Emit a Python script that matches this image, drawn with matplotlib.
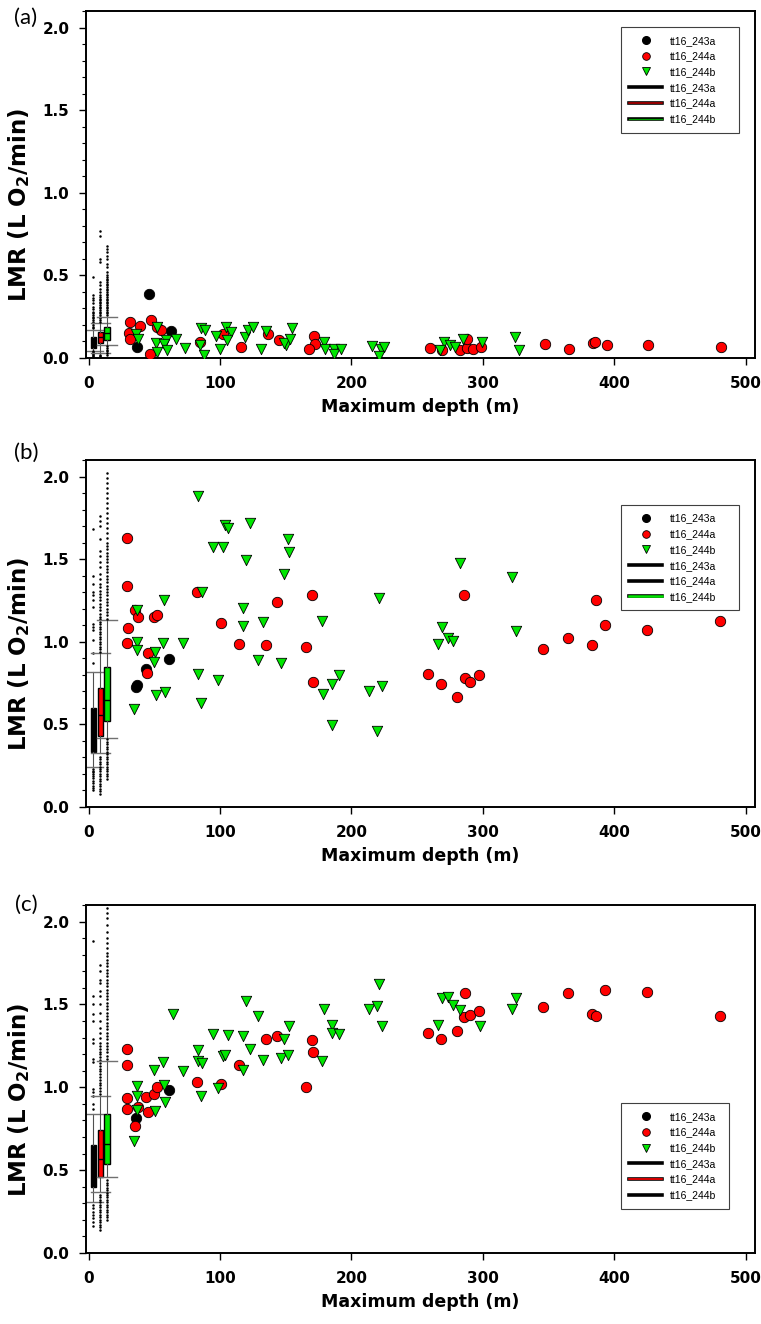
import numpy as np
import matplotlib
matplotlib.use('Agg')
import matplotlib.pyplot as plt
from matplotlib.lines import Line2D
from matplotlib.ticker import MultipleLocator

plt.rcParams['font.family'] = ['DejaVu Sans']
plt.rcParams['font.weight'] = 'bold'

GREEN = '#00e600'
labels = ['tt16_243a', 'tt16_244a', 'tt16_244b']

# ---------------- panel (a) ----------------
a_243a_x = [37, 46, 63]
a_243a_y = [0.067, 0.39, 0.163]
a_244a_x = [31.2, 30.7, 31.5, 39.1, 46.5, 47.2, 52.3, 54.8, 84.5, 102.6, 115.8, 136.1, 145, 171.6,
            172.6, 167.6, 260, 269.1, 282.3, 288, 288.2, 292.1, 298.6, 347.5, 365.8, 383.6, 385.6,
            394.5, 425.5, 480.8]
a_244a_y = [0.218, 0.15, 0.115, 0.195, 0.022, 0.232, 0.187, 0.171, 0.094, 0.143, 0.069, 0.147, 0.107,
            0.133, 0.087, 0.055, 0.06, 0.051, 0.051, 0.063, 0.113, 0.055, 0.069, 0.083, 0.057, 0.091,
            0.097, 0.077, 0.077, 0.067]
a_244b_x = [35.8, 37.8, 51.8, 51, 52.3, 58.6, 57.4, 59.9, 66.3, 73.4, 85.3, 88.3, 84.8, 87.4, 96.7,
            100, 104.3, 108.1, 105.6, 118.8, 121.3, 124.7, 131, 134.8, 150, 148.8, 153.3, 154.6, 179.2,
            180, 186.4, 186.4, 192, 215.3, 222.4, 224.9, 220.6, 270.6, 267.6, 275.3, 278.8, 284.6,
            299.3, 324.1, 327.3]
a_244b_y = [0.147, 0.117, 0.188, 0.093, 0.036, 0.107, 0.083, 0.051, 0.117, 0.06, 0.181, 0.167, 0.077,
            0.016, 0.133, 0.053, 0.188, 0.157, 0.107, 0.127, 0.171, 0.188, 0.057, 0.163, 0.077, 0.091,
            0.117, 0.184, 0.097, 0.057, 0.057, 0.027, 0.053, 0.071, 0.057, 0.067, 0.012, 0.097, 0.051,
            0.081, 0.067, 0.117, 0.097, 0.127, 0.047]

# box stats: q1, median, q3, lower whisker, upper whisker
a_box_243a = [0.06, 0.09, 0.125, 0.045, 0.17]
a_box_244a = [0.09, 0.125, 0.16, 0.03, 0.21]
a_box_244b = [0.11, 0.15, 0.185, 0.08, 0.25]
a_fl_243a = [0.005, 0.01, 0.016, 0.022, 0.028, 0.034, 0.04, 0.18, 0.19, 0.2, 0.21, 0.22, 0.23, 0.24,
             0.25, 0.26, 0.27, 0.28, 0.295, 0.31, 0.33, 0.35, 0.365, 0.38, 0.49]
a_fl_244a = [0.005, 0.012, 0.02, 0.22, 0.23, 0.24, 0.25, 0.26, 0.27, 0.28, 0.29, 0.3, 0.31, 0.32, 0.33,
             0.34, 0.35, 0.36, 0.37, 0.38, 0.4, 0.42, 0.44, 0.46, 0.58, 0.6, 0.74, 0.77]
a_fl_244b = [0.02, 0.03, 0.04, 0.05, 0.06, 0.07, 0.26, 0.27, 0.28, 0.29, 0.3, 0.31, 0.32, 0.33, 0.34,
             0.35, 0.36, 0.37, 0.38, 0.39, 0.4, 0.41, 0.42, 0.43, 0.44, 0.45, 0.46, 0.47, 0.48, 0.49,
             0.5, 0.52, 0.55, 0.57, 0.6, 0.62, 0.64, 0.66, 0.68]

# ---------------- panel (b) ----------------
b_243a_x = [36, 36.5, 43.7, 61.4]
b_243a_y = [0.725, 0.74, 0.836, 0.894]
b_244a_x = [28.9, 28.9, 30.2, 29.5, 35.5, 37.8, 49.5, 52.3, 45.2, 44.2, 82.8, 100.5, 143.2, 169.8,
            114.2, 134.8, 165.5, 170.8, 285.8, 258.2, 268.1, 286.1, 290.4, 296.8, 280.5, 346, 365,
            383, 386, 393, 425, 480]
b_244a_y = [1.63, 1.34, 1.084, 0.993, 1.19, 1.15, 1.15, 1.164, 0.933, 0.812, 1.30, 1.112, 1.239, 1.281,
            0.987, 0.981, 0.971, 0.758, 1.281, 0.806, 0.746, 0.778, 0.759, 0.796, 0.663, 0.955, 1.02,
            0.98, 1.25, 1.10, 1.07, 1.125]
b_244b_x = [37.1, 36.6, 36.6, 34.5, 50.3, 49.8, 56.6, 57.1, 51, 58.1, 72.1, 83.5, 83.3, 85.8, 103.8,
            106.1, 122.8, 95, 102.6, 119.8, 151.6, 152.8, 148.5, 86.6, 117.5, 117.5, 132.7, 177.5,
            98.5, 129.2, 146.5, 190.2, 184.8, 178.5, 213.5, 223.2, 184.8, 219.1, 221.1, 282.8, 322.2,
            325.5, 268.8, 273.2, 277, 265.6]
b_244b_y = [1.19, 1.0, 0.953, 0.594, 0.939, 0.88, 0.991, 1.253, 0.675, 0.695, 0.991, 1.883, 0.806, 0.628,
            1.706, 1.688, 1.718, 1.571, 1.571, 1.495, 1.622, 1.545, 1.41, 1.30, 1.203, 1.094, 1.118,
            1.128, 0.77, 0.89, 0.87, 0.80, 0.745, 0.681, 0.705, 0.735, 0.494, 0.457, 1.263, 1.477,
            1.39, 1.063, 1.088, 1.024, 1.007, 0.987]

b_box_243a = [0.335, 0.46, 0.60, 0.245, 0.82]
b_box_244a = [0.43, 0.555, 0.72, 0.325, 0.93]
b_box_244b = [0.52, 0.645, 0.85, 0.42, 1.13]
b_fl_243a = [0.1, 0.115, 0.13, 0.145, 0.16, 0.175, 0.19, 0.2, 0.21, 0.22, 0.23, 0.87, 0.93, 1.01,
             1.07, 1.09, 1.11, 1.21, 1.25, 1.28, 1.3, 1.35, 1.4, 1.68]
b_fl_244a = [0.08, 0.095, 0.11, 0.125, 0.14, 0.155, 0.17, 0.185, 0.2, 0.215, 0.23, 0.245, 0.26, 0.275,
             0.29, 0.305, 0.94, 0.955, 0.97, 0.985, 1.0, 1.015, 1.03, 1.045, 1.06, 1.075, 1.09, 1.105,
             1.12, 1.135, 1.15, 1.17, 1.19, 1.21, 1.23, 1.25, 1.27, 1.29, 1.31, 1.33, 1.35, 1.38,
             1.41, 1.45, 1.48, 1.52, 1.55, 1.62, 1.70, 1.73, 1.76]
b_fl_244b = [0.17, 0.185, 0.2, 0.215, 0.23, 0.245, 0.26, 0.275, 0.29, 0.305, 0.32, 0.335, 0.35, 0.365,
             0.38, 0.395, 0.41, 1.14, 1.16, 1.18, 1.2, 1.22, 1.24, 1.26, 1.28, 1.3, 1.32, 1.34, 1.36,
             1.38, 1.4, 1.42, 1.44, 1.46, 1.48, 1.5, 1.52, 1.54, 1.56, 1.58, 1.6, 1.63, 1.66, 1.69,
             1.72, 1.75, 1.78, 1.81, 1.84, 1.87, 1.9, 1.93, 1.96, 1.99, 2.02]

# ---------------- panel (c) ----------------
c_243a_x = [35.8, 61.4]
c_243a_y = [0.814, 0.985]
c_244a_x = [29.5, 28.9, 28.9, 29.5, 37.5, 35.3, 43.9, 45.2, 49.7, 52.3, 82.5, 100.5, 114.5, 134.8,
            143.2, 169.8, 170.8, 165.5, 258.2, 268.1, 280.5, 286.1, 285.8, 290.4, 296.8, 346, 365,
            383, 386, 393, 425, 480]
c_244a_y = [1.231, 1.132, 0.938, 0.87, 0.884, 0.769, 0.941, 0.848, 0.961, 0.999, 1.029, 1.021, 1.132,
            1.294, 1.308, 1.288, 1.213, 0.999, 1.328, 1.294, 1.338, 1.57, 1.425, 1.439, 1.459, 1.487,
            1.57, 1.44, 1.43, 1.59, 1.575, 1.43]
c_244b_x = [34.5, 36.6, 36.6, 36.6, 49.7, 56.6, 50.3, 57.4, 58.1, 64.5, 72.1, 83.5, 83.5, 85.3, 86.6,
            98.5, 102.6, 103.8, 95, 106.1, 117.5, 117.5, 119.8, 122.8, 129.2, 132.7, 146.5, 148.5,
            151.6, 152.8, 177.5, 178.7, 184.8, 184.8, 190.2, 213.5, 219.1, 221.1, 223.2, 268.8, 273.2,
            277, 265.6, 282.8, 298, 322.2, 325.5]
c_244b_y = [0.678, 1.009, 0.95, 0.86, 1.106, 1.15, 0.854, 1.011, 0.91, 1.445, 1.10, 1.227, 1.156, 0.95,
            1.146, 0.995, 1.19, 1.197, 1.324, 1.314, 1.308, 1.102, 1.52, 1.231, 1.433, 1.162, 1.177,
            1.292, 1.197, 1.368, 1.156, 1.475, 1.378, 1.328, 1.324, 1.473, 1.493, 1.626, 1.368, 1.54,
            1.546, 1.499, 1.378, 1.465, 1.368, 1.475, 1.54]

c_box_243a = [0.40, 0.52, 0.65, 0.31, 0.84]
c_box_244a = [0.46, 0.57, 0.74, 0.37, 0.95]
c_box_244b = [0.54, 0.655, 0.84, 0.46, 1.16]
c_fl_243a = [0.16, 0.19, 0.21, 0.23, 0.25, 0.27, 0.29, 0.87, 0.9, 0.95, 0.97, 0.99, 1.15, 1.17, 1.27,
             1.29, 1.4, 1.44, 1.5, 1.55, 1.88]
c_fl_244a = [0.14, 0.155, 0.17, 0.185, 0.2, 0.215, 0.23, 0.245, 0.26, 0.275, 0.29, 0.305, 0.32, 0.335,
             0.35, 0.96, 0.977, 0.994, 1.011, 1.028, 1.045, 1.062, 1.079, 1.096, 1.113, 1.13, 1.147,
             1.164, 1.181, 1.198, 1.215, 1.232, 1.25, 1.27, 1.3, 1.33, 1.36, 1.4, 1.45, 1.5, 1.55,
             1.58, 1.63, 1.65, 1.7, 1.74]
c_fl_244b = [0.2, 0.215, 0.23, 0.245, 0.26, 0.275, 0.29, 0.305, 0.32, 0.335, 0.35, 0.365, 0.38, 0.395,
             0.41, 0.425, 0.44, 1.17, 1.19, 1.21, 1.23, 1.25, 1.27, 1.29, 1.31, 1.33, 1.35, 1.37, 1.39,
             1.41, 1.43, 1.45, 1.47, 1.49, 1.51, 1.53, 1.55, 1.57, 1.59, 1.61, 1.63, 1.65, 1.67, 1.69,
             1.71, 1.73, 1.75, 1.77, 1.79, 1.81, 1.84, 1.87, 1.9, 1.94, 1.98, 2.02, 2.05, 2.08]

box_pos = [3.5, 9, 14]
box_colors = ['black', 'red', GREEN]


def draw_panel(ax, scat, boxes, fliers, line_cores, leg_box, tag, tag_y):
    # box plots from precomputed stats
    stats = []
    for b, fl in zip(boxes, fliers):
        stats.append(dict(q1=b[0], med=b[1], q3=b[2], whislo=b[3], whishi=b[4], fliers=fl))
    bp = ax.bxp(stats, positions=box_pos, widths=4, capwidths=15, patch_artist=True,
                manage_ticks=False,
                boxprops=dict(edgecolor='black', linewidth=1),
                medianprops=dict(color='black', linewidth=1),
                whiskerprops=dict(color='#505050', linewidth=0.8),
                capprops=dict(color='#707070', linewidth=1),
                flierprops=dict(marker='o', markersize=1.8, markerfacecolor='black',
                                markeredgecolor='black', markeredgewidth=0))
    for patch, col in zip(bp['boxes'], box_colors):
        patch.set_facecolor(col)

    (x1, y1), (x2, y2), (x3, y3) = scat
    ax.scatter(x1, y1, s=56, c='black', edgecolors='black', linewidths=0.6, zorder=3)
    ax.scatter(x2, y2, s=56, c='red', edgecolors='black', linewidths=0.6, zorder=3)
    ax.scatter(x3, y3, s=56, c=GREEN, marker='v', edgecolors='black', linewidths=0.6, zorder=3)

    ax.set_xlim(-2, 507)
    ax.set_ylim(0, 2.1)
    ax.xaxis.set_major_locator(MultipleLocator(100))
    ax.yaxis.set_minor_locator(MultipleLocator(0.1))
    ax.set_yticks([0, 0.5, 1.0, 1.5, 2.0])
    ax.set_yticklabels(['0.0', '0.5', '1.0', '1.5', '2.0'])
    ax.tick_params(axis='both', which='major', direction='out', length=5, width=1, labelsize=11)
    ax.tick_params(axis='x', which='major', pad=8)
    ax.tick_params(axis='y', which='major', pad=7)
    ax.tick_params(axis='y', which='minor', direction='out', length=3, width=0.8)
    for sp in ax.spines.values():
        sp.set_linewidth(1.4)

    ax.set_xlabel('Maximum depth (m)', fontsize=12.5, fontweight='bold', labelpad=5)
    ax.set_ylabel('LMR (L O$_\\mathbf{2}$/min)', fontsize=16.5, fontweight='bold')
    ax.yaxis.set_label_coords(-0.081, 0.44)

    handles = [Line2D([], [], ls='none', marker='o', ms=5.5, mfc='black', mec='black'),
               Line2D([], [], ls='none', marker='o', ms=5.5, mfc='red', mec='black', mew=0.6),
               Line2D([], [], ls='none', marker='v', ms=5.5, mfc=GREEN, mec='black', mew=0.6)]
    for core in line_cores:
        if core is None:
            handles.append(Line2D([], [], color='black', lw=2.6))
        else:
            handles.append((Line2D([], [], color='black', lw=2.6),
                            Line2D([], [], color=core[0], lw=core[1])))
    leg = ax.legend(handles, labels + labels, loc='upper left', bbox_to_anchor=leg_box,
                    mode='expand', frameon=True, fancybox=False, edgecolor='#404040',
                    framealpha=1, prop=dict(family=['Liberation Sans'], size=7.5, weight='normal'),
                    handlelength=3.2, handletextpad=0.75, labelspacing=0.55, borderpad=0.8,
                    borderaxespad=0)
    leg.get_frame().set_linewidth(0.8)

    fig.text(26 / 761, 1 - tag_y / 1324, tag, fontsize=16, fontweight='normal',
             family=['Lato', 'DejaVu Sans'], ha='center', va='center')


fig = plt.figure(figsize=(7.61, 13.24), dpi=100)
left, width = 86 / 761, (755 - 86) / 761
ax_a = fig.add_axes([left, 1 - 358 / 1324, width, 347 / 1324])
ax_b = fig.add_axes([left, 1 - 807 / 1324, width, 347 / 1324])
ax_c = fig.add_axes([left, 1 - 1253 / 1324, width, 348 / 1324])

draw_panel(ax_a, [(a_243a_x, a_243a_y), (a_244a_x, a_244a_y), (a_244b_x, a_244b_y)],
           [a_box_243a, a_box_244a, a_box_244b], [a_fl_243a, a_fl_244a, a_fl_244b],
           [None, ('#c00000', 1.1), ('#00a000', 0.9)], (0.799, 0.0, 0.177, 0.953), '(a)', 18)
draw_panel(ax_b, [(b_243a_x, b_243a_y), (b_244a_x, b_244a_y), (b_244b_x, b_244b_y)],
           [b_box_243a, b_box_244a, b_box_244b], [b_fl_243a, b_fl_244a, b_fl_244b],
           [None, None, (GREEN, 1.8)], (0.799, 0.0, 0.177, 0.870), '(b)', 453)
draw_panel(ax_c, [(c_243a_x, c_243a_y), (c_244a_x, c_244a_y), (c_244b_x, c_244b_y)],
           [c_box_243a, c_box_244a, c_box_244b], [c_fl_243a, c_fl_244a, c_fl_244b],
           [None, ('red', 1.2), None], (0.799, 0.0, 0.162, 0.430), '(c)', 905)

fig.savefig('out.png', dpi=100)
